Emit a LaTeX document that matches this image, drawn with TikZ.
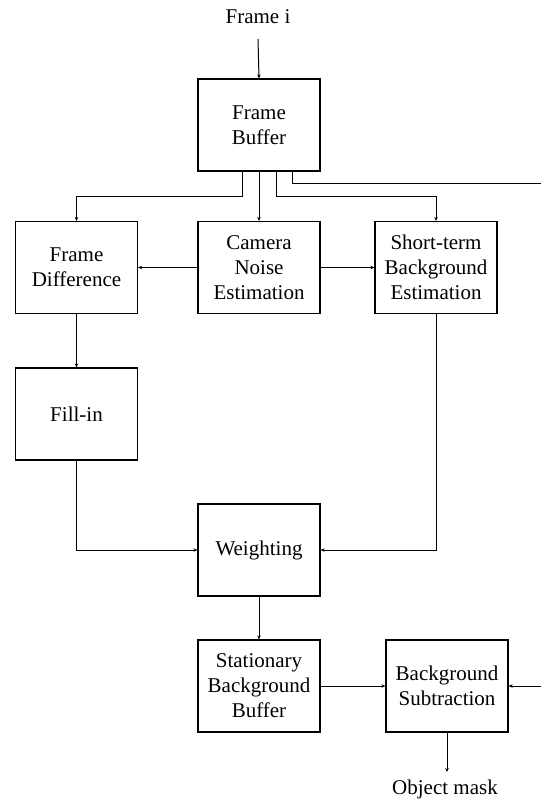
\documentclass[tikz,border=0pt]{standalone}
\usepackage{fontspec}
\setmainfont{Liberation Serif}
\usetikzlibrary{arrows.meta}
\begin{document}
\begin{tikzpicture}[x=1pt,y=-1pt,
  blk/.style={draw, line width=1.2pt, minimum width=122pt, minimum height=92pt, align=center, inner sep=2pt,
    font=\fontsize{21}{25}\selectfont},
  lbl/.style={font=\fontsize{21}{25}\selectfont, inner sep=0pt},
  conn/.style={line width=1pt},
  arr/.style={conn, -{Stealth[length=4pt,width=3.5pt]}}]
\useasboundingbox (0,0) rectangle (541,800);
\node[lbl, anchor=south] (framei) at (258,24) {Frame i};
\node[blk] (fb) at (259,125) {Frame\\Buffer};
\node[blk] (fd) at (76.5,267.5) {Frame\\Difference};
\node[blk] (cn) at (259,267.5) {Camera\\Noise\\Estimation};
\node[blk] (st) at (436,267.5) {Short-term\\Background\\Estimation};
\node[blk] (fi) at (76.5,414) {Fill-in};
\node[blk] (w) at (259,550) {Weighting};
\node[blk] (sb) at (259,686) {Stationary\\Background\\Buffer};
\node[blk] (bs) at (447,686) {Background\\Subtraction};
\node[lbl, anchor=north] (om) at (445,780) {Object mask};
\coordinate (edgeA) at (541,183.5);
\coordinate (edgeB) at (541,686);
% connectors
\draw[arr] ([yshift=-15pt]framei.south) -- (fb.north);
\draw[arr] ([xshift=-17pt]fb.south) -- ++(0,25) -| (fd.north);
\draw[arr] (fb.south) -- (cn.north);
\draw[arr] ([xshift=17pt]fb.south) -- ++(0,25) -| (st.north);
\draw[conn] ([xshift=33pt]fb.south) |- (edgeA);
\draw[arr] (cn.west) -- (fd.east);
\draw[arr] (cn.east) -- (st.west);
\draw[arr] (fd.south) -- (fi.north);
\draw[arr] (fi.south) |- (w.west);
\draw[arr] (st.south) |- (w.east);
\draw[arr] (w.south) -- (sb.north);
\draw[arr] (sb.east) -- (bs.west);
\draw[arr] (edgeB) -- (bs.east);
\draw[arr] (bs.south) -- ([yshift=8pt]om.north -| bs.south);
\end{tikzpicture}
\end{document}
